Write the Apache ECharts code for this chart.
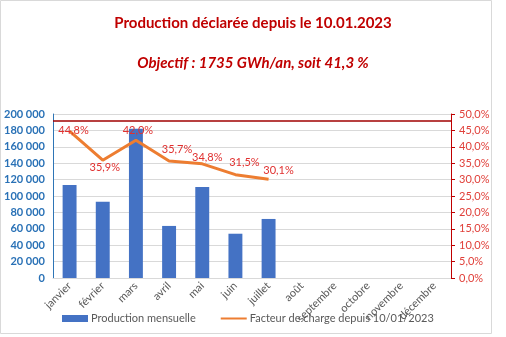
<!DOCTYPE html>
<html><head><meta charset="utf-8">
<script src="https://cdn.jsdelivr.net/npm/echarts@6/dist/echarts.min.js"></script>
<style>html,body{margin:0;padding:0;background:#fff}#c{width:506px;height:337px}</style>
</head><body><div id="c"></div>
<script>
const months = ['janvier','février','mars','avril','mai','juin','juillet','août','septembre','octobre','novembre','décembre'];
const production = [113500, 93000, 182000, 63500, 111000, 54000, 72000, null, null, null, null, null];
const loadFactor = [44.8, 35.9, 42.0, 35.7, 34.8, 31.5, 30.1, null, null, null, null, null];
const objectiveLine = 47.9;
const leftTicks = {min: 0, max: 200000, interval: 20000};
const rightTicks = {min: 0, max: 50, interval: 5};
const labelOffsets = [[4,10],[2,18],[2,1],[8,-1],[5,4],[9,-2],[10,2]];

const chart = echarts.init(document.getElementById('c'), null, {renderer: 'canvas'});
const font = 'Lato, "Open Sans", sans-serif';
const fmtSpace = v => String(v).replace(/\B(?=(\d{3})+(?!\d))/g, ' ');

chart.setOption({
  animation: false,
  textStyle: {fontFamily: font},
  graphic: [{type: 'rect', shape: {x: 0.5, y: 0.5, width: 491, height: 333}, style: {fill: 'none', stroke: '#d9d9d9', lineWidth: 1}, silent: true}],
  title: [
    {text: 'Production déclarée depuis le 10.01.2023', left: 'center', top: 11,
     textStyle: {fontFamily: font, fontSize: 15, fontWeight: 'bold', color: '#C00000'}},
    {text: 'Objectif : 1735 GWh/an, soit 41,3 %', left: 'center', top: 51,
     textStyle: {fontFamily: font, fontSize: 15, fontWeight: 'bold', fontStyle: 'italic', color: '#C00000'}}
  ],
  grid: {left: 53, right: 55, top: 114, bottom: 59, containLabel: false},
  legend: {
    bottom: 8, left: 57, itemWidth: 26, itemHeight: 7, itemGap: 24,
    textStyle: {fontFamily: font, fontSize: 11, color: '#595959', padding: [0, 0, 0, -2]},
    data: [{name: 'Production mensuelle', icon: 'rect'},
           {name: 'Facteur de charge depuis 10/01/2023', itemStyle: {opacity: 0}}]
  },
  xAxis: {
    type: 'category', data: months,
    axisLine: {lineStyle: {color: '#d9d9d9'}},
    axisTick: {show: false},
    axisLabel: {rotate: 45, color: '#595959', fontSize: 11, fontFamily: font, interval: 0, margin: 6}
  },
  yAxis: [
    {type: 'value', min: leftTicks.min, max: leftTicks.max, interval: leftTicks.interval,
     axisLine: {show: true, lineStyle: {color: '#2E75B6', width: 1}},
     axisTick: {show: false},
     splitLine: {lineStyle: {color: '#d9d9d9'}},
     axisLabel: {formatter: fmtSpace, color: '#2971B6', fontWeight: 'bold', fontSize: 11, fontFamily: font, margin: 8}},
    {type: 'value', min: rightTicks.min, max: rightTicks.max, interval: rightTicks.interval, position: 'right',
     axisLine: {show: true, lineStyle: {color: '#C00000', width: 1}},
     axisTick: {show: true, inside: false, length: 4, lineStyle: {color: '#C00000'}},
     splitLine: {show: false},
     axisLabel: {formatter: v => v.toFixed(1).replace('.', ',') + '%', color: '#E0403A', fontSize: 11, fontFamily: font, margin: 8}}
  ],
  series: [
    {name: 'Production mensuelle', type: 'bar', data: production, barWidth: '42%',
     itemStyle: {color: '#4472C4'}, yAxisIndex: 0},
    {name: 'Facteur de charge depuis 10/01/2023', type: 'line', yAxisIndex: 1,
     data: loadFactor.map((v, i) => (v == null ? null : {value: v, label: {offset: labelOffsets[i] || [0, 0]}})),
     symbol: 'circle', symbolSize: 0, showSymbol: true,
     lineStyle: {color: '#ED7D31', width: 3}, itemStyle: {color: '#ED7D31'},
     label: {show: true, position: 'top', color: '#E0302F', fontSize: 11, fontFamily: font,
             formatter: p => p.value.toFixed(1).replace('.', ',') + '%'},
     markLine: {silent: true, symbol: 'none', label: {show: false},
                lineStyle: {color: '#A00000', width: 1.5, type: 'solid'},
                data: [{yAxis: objectiveLine}]}}
  ]
});
</script></body></html>
